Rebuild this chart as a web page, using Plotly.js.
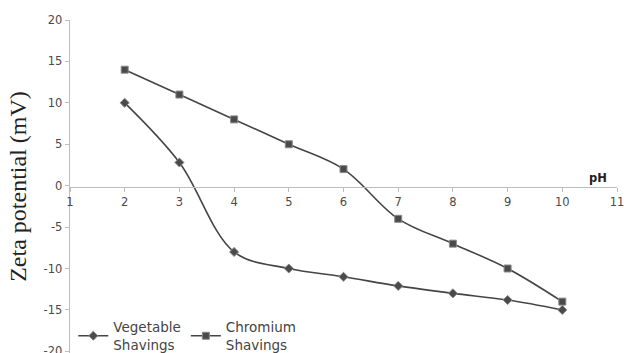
<!DOCTYPE html>
<html>
<head>
<meta charset="utf-8">
<script src="https://cdn.plot.ly/plotly-3.0.1.min.js"></script>
<style>html,body{margin:0;padding:0;background:#fff;}#chart{width:624px;height:353px;}</style>
</head>
<body>
<div id="chart"></div>
<script>
const pH = [2, 3, 4, 5, 6, 7, 8, 9, 10];
const vegetable = [10, 2.8, -8, -10, -11, -12.1, -13, -13.8, -15];
const chromium = [14, 11, 8, 5, 2, -4, -7, -10, -14];
const seriesNames = ['Vegetable<br>Shavings', 'Chromium<br>Shavings'];
const yTicks = [-20, -15, -10, -5, 0, 5, 10, 15, 20];
const yTickText = ['-20', '-15', '-10', '-5', '0', '5', '10', '15', '20'];
const xTicks = [1, 2, 3, 4, 5, 6, 7, 8, 9, 10, 11];

const lineColor = '#454545';
const traces = [
  {
    x: pH, y: vegetable, name: seriesNames[0], type: 'scatter', mode: 'lines+markers',
    line: {color: lineColor, width: 1.6, shape: 'spline', smoothing: 1},
    marker: {symbol: 'diamond', size: 7, color: '#4a4a4a', line: {color: '#8a8a8a', width: 1}}
  },
  {
    x: pH, y: chromium, name: seriesNames[1], type: 'scatter', mode: 'lines+markers',
    line: {color: lineColor, width: 1.6, shape: 'spline', smoothing: 1},
    marker: {symbol: 'square', size: 7, color: '#4a4a4a', line: {color: '#8a8a8a', width: 1}}
  }
];

const tickFont = {family: 'DejaVu Sans, Verdana, sans-serif', size: 11.5, color: '#4a4a4a'};
const layout = {
  width: 624, height: 353,
  margin: {l: 70, r: 7, t: 20, b: 0, autoexpand: false},
  paper_bgcolor: '#fff', plot_bgcolor: '#fff',
  showlegend: true,
  legend: {
    orientation: 'h', x: 0.006, y: 0.124, xanchor: 'left', yanchor: 'top',
    font: {family: 'DejaVu Sans, Verdana, sans-serif', size: 13.5, color: '#444'},
    bgcolor: 'rgba(0,0,0,0)', itemwidth: 30, tracegroupgap: 0
  },
  xaxis: {
    range: [1, 11], tickvals: xTicks, showgrid: false, zeroline: false,
    showline: true, linecolor: '#bdbdbd', linewidth: 1.3,
    ticks: 'outside', ticklen: 4, tickcolor: '#bdbdbd',
    anchor: 'free', position: 0.5, automargin: false, ticklabeloverflow: 'allow',
    tickfont: tickFont
  },
  yaxis: {
    range: [-20.2, 20], tickvals: yTicks, ticktext: yTickText, showgrid: false, zeroline: false,
    showline: true, linecolor: '#bdbdbd', linewidth: 1.3,
    ticks: 'outside', ticklen: 4, tickcolor: '#bdbdbd', automargin: false, ticklabeloverflow: 'allow',
    tickfont: tickFont,
    title: {text: 'Zeta potential (mV)', font: {family: 'Liberation Serif, Times New Roman, serif', size: 24, color: '#222'}, standoff: 10}
  },
  annotations: [
    {xref: 'paper', yref: 'paper', x: 0.965, y: 0.5, xanchor: 'center', yanchor: 'bottom',
     text: '<b>pH</b>', showarrow: false, yshift: 0,
     font: {family: 'DejaVu Sans, Verdana, sans-serif', size: 11.5, color: '#222'}}
  ]
};

Plotly.newPlot('chart', traces, layout, {displayModeBar: false, staticPlot: true});
</script>
</body>
</html>
